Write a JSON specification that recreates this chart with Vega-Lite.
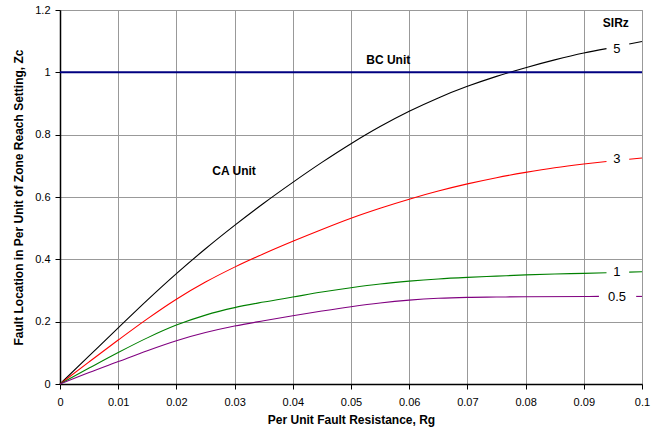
{
  "$schema": "https://vega.github.io/schema/vega-lite/v6.json",
  "autosize": "none",
  "width": 582,
  "height": 374,
  "padding": {"left": 60, "top": 10, "right": 28, "bottom": 50},
  "background": "white",
  "config": {
    "font": "Liberation Sans",
    "view": {"stroke": "#999999", "strokeWidth": 1},
    "axis": {
      "gridColor": "#999999",
      "gridWidth": 1,
      "domainColor": "#000000",
      "domainWidth": 1.5,
      "tickColor": "#000000",
      "tickSize": 5,
      "labelFont": "Liberation Sans",
      "labelFontSize": 11,
      "labelColor": "#000000",
      "titleFont": "Liberation Sans",
      "titleFontSize": 12,
      "titleFontWeight": "bold",
      "titleColor": "#000000"
    }
  },
  "datasets": {
    "curves": [
      {"sirz": "5", "part": "a", "rg": 0, "zc": 0},
      {"sirz": "5", "part": "a", "rg": 0.005, "zc": 0.09},
      {"sirz": "5", "part": "a", "rg": 0.01, "zc": 0.18},
      {"sirz": "5", "part": "a", "rg": 0.015, "zc": 0.269},
      {"sirz": "5", "part": "a", "rg": 0.02, "zc": 0.354},
      {"sirz": "5", "part": "a", "rg": 0.025, "zc": 0.434},
      {"sirz": "5", "part": "a", "rg": 0.03, "zc": 0.509},
      {"sirz": "5", "part": "a", "rg": 0.035, "zc": 0.58},
      {"sirz": "5", "part": "a", "rg": 0.04, "zc": 0.647},
      {"sirz": "5", "part": "a", "rg": 0.045, "zc": 0.711},
      {"sirz": "5", "part": "a", "rg": 0.05, "zc": 0.771},
      {"sirz": "5", "part": "a", "rg": 0.055, "zc": 0.826},
      {"sirz": "5", "part": "a", "rg": 0.06, "zc": 0.875},
      {"sirz": "5", "part": "a", "rg": 0.065, "zc": 0.918},
      {"sirz": "5", "part": "a", "rg": 0.07, "zc": 0.955},
      {"sirz": "5", "part": "a", "rg": 0.075, "zc": 0.987},
      {"sirz": "5", "part": "a", "rg": 0.08, "zc": 1.015},
      {"sirz": "5", "part": "a", "rg": 0.085, "zc": 1.04},
      {"sirz": "5", "part": "a", "rg": 0.09, "zc": 1.062},
      {"sirz": "5", "part": "a", "rg": 0.0939, "zc": 1.076},
      {"sirz": "5", "part": "b", "rg": 0.0978, "zc": 1.091},
      {"sirz": "5", "part": "b", "rg": 0.1, "zc": 1.099},
      {"sirz": "3", "part": "a", "rg": 0, "zc": 0},
      {"sirz": "3", "part": "a", "rg": 0.005, "zc": 0.071},
      {"sirz": "3", "part": "a", "rg": 0.01, "zc": 0.141},
      {"sirz": "3", "part": "a", "rg": 0.015, "zc": 0.209},
      {"sirz": "3", "part": "a", "rg": 0.02, "zc": 0.272},
      {"sirz": "3", "part": "a", "rg": 0.025, "zc": 0.327},
      {"sirz": "3", "part": "a", "rg": 0.03, "zc": 0.375},
      {"sirz": "3", "part": "a", "rg": 0.035, "zc": 0.418},
      {"sirz": "3", "part": "a", "rg": 0.04, "zc": 0.458},
      {"sirz": "3", "part": "a", "rg": 0.045, "zc": 0.496},
      {"sirz": "3", "part": "a", "rg": 0.05, "zc": 0.532},
      {"sirz": "3", "part": "a", "rg": 0.055, "zc": 0.564},
      {"sirz": "3", "part": "a", "rg": 0.06, "zc": 0.593},
      {"sirz": "3", "part": "a", "rg": 0.065, "zc": 0.619},
      {"sirz": "3", "part": "a", "rg": 0.07, "zc": 0.642},
      {"sirz": "3", "part": "a", "rg": 0.075, "zc": 0.662},
      {"sirz": "3", "part": "a", "rg": 0.08, "zc": 0.679},
      {"sirz": "3", "part": "a", "rg": 0.085, "zc": 0.694},
      {"sirz": "3", "part": "a", "rg": 0.09, "zc": 0.706},
      {"sirz": "3", "part": "a", "rg": 0.0939, "zc": 0.714},
      {"sirz": "3", "part": "b", "rg": 0.0978, "zc": 0.721},
      {"sirz": "3", "part": "b", "rg": 0.1, "zc": 0.725},
      {"sirz": "1", "part": "a", "rg": 0, "zc": 0},
      {"sirz": "1", "part": "a", "rg": 0.005, "zc": 0.051},
      {"sirz": "1", "part": "a", "rg": 0.01, "zc": 0.101},
      {"sirz": "1", "part": "a", "rg": 0.015, "zc": 0.148},
      {"sirz": "1", "part": "a", "rg": 0.02, "zc": 0.189},
      {"sirz": "1", "part": "a", "rg": 0.025, "zc": 0.221},
      {"sirz": "1", "part": "a", "rg": 0.03, "zc": 0.245},
      {"sirz": "1", "part": "a", "rg": 0.035, "zc": 0.263},
      {"sirz": "1", "part": "a", "rg": 0.04, "zc": 0.279},
      {"sirz": "1", "part": "a", "rg": 0.045, "zc": 0.295},
      {"sirz": "1", "part": "a", "rg": 0.05, "zc": 0.309},
      {"sirz": "1", "part": "a", "rg": 0.055, "zc": 0.321},
      {"sirz": "1", "part": "a", "rg": 0.06, "zc": 0.33},
      {"sirz": "1", "part": "a", "rg": 0.065, "zc": 0.337},
      {"sirz": "1", "part": "a", "rg": 0.07, "zc": 0.342},
      {"sirz": "1", "part": "a", "rg": 0.075, "zc": 0.346},
      {"sirz": "1", "part": "a", "rg": 0.08, "zc": 0.35},
      {"sirz": "1", "part": "a", "rg": 0.085, "zc": 0.353},
      {"sirz": "1", "part": "a", "rg": 0.09, "zc": 0.355},
      {"sirz": "1", "part": "a", "rg": 0.0939, "zc": 0.357},
      {"sirz": "1", "part": "b", "rg": 0.0978, "zc": 0.359},
      {"sirz": "1", "part": "b", "rg": 0.1, "zc": 0.36},
      {"sirz": "0.5", "part": "a", "rg": 0, "zc": 0},
      {"sirz": "0.5", "part": "a", "rg": 0.005, "zc": 0.037},
      {"sirz": "0.5", "part": "a", "rg": 0.01, "zc": 0.072},
      {"sirz": "0.5", "part": "a", "rg": 0.015, "zc": 0.107},
      {"sirz": "0.5", "part": "a", "rg": 0.02, "zc": 0.139},
      {"sirz": "0.5", "part": "a", "rg": 0.025, "zc": 0.165},
      {"sirz": "0.5", "part": "a", "rg": 0.03, "zc": 0.186},
      {"sirz": "0.5", "part": "a", "rg": 0.035, "zc": 0.203},
      {"sirz": "0.5", "part": "a", "rg": 0.04, "zc": 0.219},
      {"sirz": "0.5", "part": "a", "rg": 0.045, "zc": 0.234},
      {"sirz": "0.5", "part": "a", "rg": 0.05, "zc": 0.248},
      {"sirz": "0.5", "part": "a", "rg": 0.055, "zc": 0.26},
      {"sirz": "0.5", "part": "a", "rg": 0.06, "zc": 0.269},
      {"sirz": "0.5", "part": "a", "rg": 0.065, "zc": 0.275},
      {"sirz": "0.5", "part": "a", "rg": 0.07, "zc": 0.278},
      {"sirz": "0.5", "part": "a", "rg": 0.075, "zc": 0.279},
      {"sirz": "0.5", "part": "a", "rg": 0.08, "zc": 0.28},
      {"sirz": "0.5", "part": "a", "rg": 0.0926, "zc": 0.281},
      {"sirz": "0.5", "part": "b", "rg": 0.099, "zc": 0.281},
      {"sirz": "0.5", "part": "b", "rg": 0.1, "zc": 0.281}
    ],
    "seriesLabels": [
      {"label": "5", "rg": 0.0957, "zc": 1.074},
      {"label": "3", "rg": 0.0957, "zc": 0.721},
      {"label": "1", "rg": 0.0957, "zc": 0.358},
      {"label": "0.5", "rg": 0.0957, "zc": 0.28}
    ],
    "notes": [
      {"label": "SIRz", "rg": 0.0955, "zc": 1.158},
      {"label": "BC Unit", "rg": 0.0564, "zc": 1.04},
      {"label": "CA Unit", "rg": 0.0299, "zc": 0.682}
    ]
  },
  "layer": [
    {
      "data": {"name": "curves"},
      "mark": {"type": "line", "strokeWidth": 1.1, "interpolate": "monotone"},
      "encoding": {
        "x": {
          "field": "rg", "type": "quantitative",
          "scale": {"domain": [0, 0.1], "nice": false},
          "axis": {
            "title": "Per Unit Fault Resistance, Rg",
            "values": [0, 0.01, 0.02, 0.03, 0.04, 0.05, 0.06, 0.07, 0.08, 0.09, 0.1],
            "format": "~g",
            "labelPadding": 7,
            "titlePadding": 7,
            "labelFlush": false
          }
        },
        "y": {
          "field": "zc", "type": "quantitative",
          "scale": {"domain": [0, 1.2], "nice": false},
          "axis": {
            "title": "Fault Location in Per Unit of Zone Reach Setting, Zc",
            "values": [0, 0.2, 0.4, 0.6, 0.8, 1, 1.2],
            "format": "~g",
            "labelPadding": 5,
            "titlePadding": 9,
            "labelFlush": false
          }
        },
        "color": {
          "field": "sirz", "type": "nominal",
          "scale": {"domain": ["5", "3", "1", "0.5"], "range": ["#000000", "#FF0000", "#008000", "#800080"]},
          "legend": null
        },
        "detail": {"field": "part"}
      }
    },
    {
      "data": {"values": [{"zc": 1}]},
      "mark": {"type": "rule", "color": "#000080", "strokeWidth": 2},
      "encoding": {"y": {"field": "zc", "type": "quantitative"}}
    },
    {
      "data": {"name": "seriesLabels"},
      "mark": {"type": "text", "fontSize": 13, "font": "Liberation Sans", "color": "#000000", "align": "center", "baseline": "middle"},
      "encoding": {
        "x": {"field": "rg", "type": "quantitative"},
        "y": {"field": "zc", "type": "quantitative"},
        "text": {"field": "label"}
      }
    },
    {
      "data": {"name": "notes"},
      "mark": {"type": "text", "fontSize": 12, "fontWeight": "bold", "font": "Liberation Sans", "color": "#000000", "align": "center", "baseline": "middle"},
      "encoding": {
        "x": {"field": "rg", "type": "quantitative"},
        "y": {"field": "zc", "type": "quantitative"},
        "text": {"field": "label"}
      }
    }
  ]
}
